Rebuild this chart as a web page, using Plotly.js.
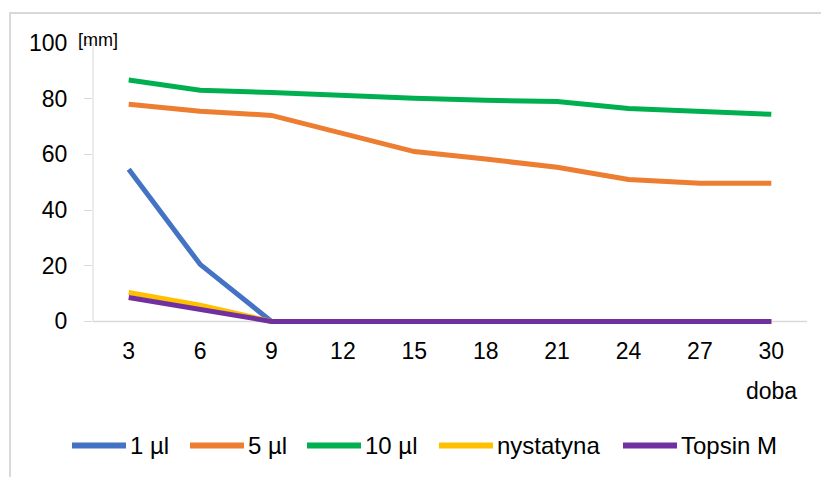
<!DOCTYPE html>
<html>
<head>
<meta charset="utf-8">
<script src="https://cdn.plot.ly/plotly-3.0.1.min.js"></script>
<style>
html,body{margin:0;padding:0;background:#fff;overflow:hidden;}
#frame{position:absolute;left:9px;top:12px;width:840px;height:500px;border:2px solid #d9d9d9;box-sizing:border-box;}
#chart{position:absolute;left:0;top:0;width:821px;height:477px;}
</style>
</head>
<body>
<div id="frame"></div>
<div id="chart"></div>
<script>
const days = ["3","6","9","12","15","18","21","24","27","30"];
const s1ul = [54.7, 20.5, 0, 0, 0, 0, 0, 0, 0, 0];
const s5ul = [78, 75.5, 74, 67.6, 61, 58.3, 55.4, 51, 49.6, 49.6];
const s10ul = [86.7, 83, 82.2, 81, 80.2, 79.4, 79, 76.5, 75.5, 74.4];
const nystatyna = [10.4, 5.8, 0, 0, 0, 0, 0, 0, 0, 0];
const topsin = [8.6, 4.2, 0, 0, 0, 0, 0, 0, 0, 0];
const seriesNames = ["1 µl", "5 µl", "10 µl", "nystatyna", "Topsin M"];
const colors = ["#4472C4", "#ED7D31", "#00B050", "#FFC000", "#7030A0"];
const yTicks = [0, 20, 40, 60, 80, 100];

const font = "'Liberation Sans', Arial, sans-serif";
const W = 821, H = 477, ML = 93, MR = 14, MT = 43;
const Y0PX = 321, unitPx = 2.78, YMIN = -2;
const ph = (100 - YMIN) * unitPx;
const MB = H - MT - ph;
const pw = W - ML - MR;
const px2x = p => (p - ML) / pw;
const py2y = p => (H - MB - p) / ph;

const allData = [s1ul, s5ul, s10ul, nystatyna, topsin];
const traces = allData.map((d, i) => ({
  type: "scatter", mode: "lines", x: days, y: d, name: seriesNames[i],
  line: {color: colors[i], width: 5}, showlegend: false
}));

const shapes = [
  {type: "line", xref: "paper", yref: "y", x0: 0, x1: 1, y0: 0, y1: 0, layer: "below", line: {color: "#d9d9d9", width: 1.5}},
  {type: "line", xref: "paper", yref: "y", x0: 0, x1: 0, y0: 0, y1: 100, layer: "below", line: {color: "#d9d9d9", width: 1}}
];
const annotations = [];
// manual legend (long line samples like the reference)
const legLineStart = [72, 190, 307, 439, 623];
const legY = 445;
seriesNames.forEach((n, i) => {
  shapes.push({type: "line", xref: "paper", yref: "paper",
    x0: px2x(legLineStart[i]), x1: px2x(legLineStart[i] + 54), y0: py2y(legY), y1: py2y(legY),
    line: {color: colors[i], width: 6}});
  annotations.push({text: n, xref: "paper", yref: "paper", x: px2x(legLineStart[i] + 56), y: py2y(legY),
    xanchor: "left", yanchor: "middle", showarrow: false, font: {family: font, size: 24, color: "#000"}});
});
annotations.push({text: "[mm]", xref: "paper", yref: "paper", x: px2x(76), y: py2y(40), xanchor: "left", yanchor: "middle",
  showarrow: false, font: {family: font, size: 18, color: "#000"}});
annotations.push({text: "doba", xref: "x", yref: "paper", x: 9, y: py2y(390), xanchor: "center", yanchor: "middle",
  showarrow: false, font: {family: font, size: 23, color: "#000"}});

const layout = {
  width: W, height: H,
  margin: {l: ML, r: MR, t: MT, b: MB},
  paper_bgcolor: "rgba(0,0,0,0)", plot_bgcolor: "rgba(0,0,0,0)",
  font: {family: font, size: 23, color: "#000"},
  showlegend: false,
  xaxis: {type: "category", range: [-0.5, 9.5], tickmode: "array", tickvals: days, ticktext: days,
          showgrid: false, zeroline: false, showline: false,
          ticks: "", tickfont: {size: 23}, ticklabelstandoff: 8, fixedrange: true},
  yaxis: {range: [YMIN, 100], tickvals: yTicks, showgrid: false, zeroline: false, showline: false,
          ticks: "outside", ticklen: 8, tickcolor: "#d9d9d9",
          tickfont: {size: 23}, ticklabelstandoff: 12},
  shapes: shapes,
  annotations: annotations
};
Plotly.newPlot("chart", traces, layout, {displayModeBar: false, staticPlot: true});
</script>
</body>
</html>
